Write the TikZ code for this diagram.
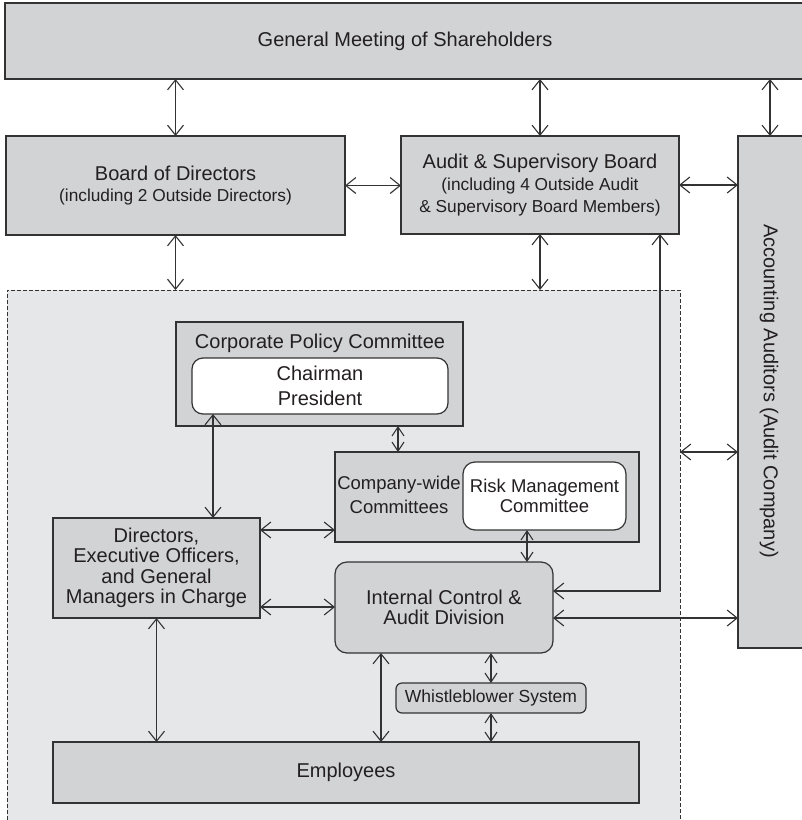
\documentclass[tikz,border=0pt]{standalone}
\usepackage{fontspec}
\setmainfont{Liberation Sans}
\usetikzlibrary{arrows.meta}
\definecolor{boxgray}{HTML}{D1D3D4}
\definecolor{bggray}{HTML}{E6E7E8}
\definecolor{linec}{HTML}{333333}
\definecolor{txt}{HTML}{231F20}
\tikzset{
  box/.style={draw=linec, line width=1.2pt, fill=boxgray, inner sep=0pt, outer sep=0pt, align=center, text=txt, font=\fontsize{20}{22}\selectfont},
  wbox/.style={box, fill=white},
  lbl/.style={inner sep=0pt, align=center, text=txt},
  dar/.style={draw=linec, line width=1.1pt, {Straight Barb[length=10pt,width=16pt]}-{Straight Barb[length=10pt,width=16pt]}},
  sar/.style={draw=linec, line width=1.1pt, {Straight Barb[length=9pt,width=12pt]}-{Straight Barb[length=9pt,width=12pt]}},
}
\begin{document}
\begin{tikzpicture}[x=1pt,y=-1pt]
\useasboundingbox (0,0) rectangle (802,820);
% control region (open at the bottom edge of the picture)
\node[draw=linec, line width=0.8pt, dash pattern=on 4pt off 2pt, fill=bggray, minimum width=673pt, minimum height=540pt, inner sep=0pt, outer sep=0pt] (ctrl) at (343.5,560) {};

\node[box, minimum width=800pt, minimum height=76pt] (gms) at (405,41) {General Meeting of Shareholders};
\node[box, minimum width=339pt, minimum height=99pt] (bod) at (175.5,185.5) {Board of Directors\\[-1pt]\fontsize{17.3}{22}\selectfont (including 2 Outside Directors)};
\node[box, minimum width=278pt, minimum height=98pt] (asb) at (540,185) {Audit \& Supervisory Board\\\fontsize{17.3}{21}\selectfont (including 4 Outside Audit\\\fontsize{17.3}{21}\selectfont \& Supervisory Board Members)};
\node[box, minimum width=68pt, minimum height=512pt] (aa) at (772,392) {};
\node[lbl, rotate=-90, font=\fontsize{20}{22}\selectfont] (aat) at (769,391) {Accounting Auditors (Audit Company)};

% corporate policy committee
\node[box, minimum width=287pt, minimum height=104pt] (cpc) at (319.5,374) {};
\node[lbl, font=\fontsize{20}{22}\selectfont] (cpct) at (320,343) {Corporate Policy Committee};
\node[wbox, rounded corners=11pt, minimum width=256pt, minimum height=56pt, font=\fontsize{20}{25}\selectfont] (chair) at (320,386) {Chairman\\President};

% company-wide committees
\node[box, minimum width=304pt, minimum height=90pt] (cw) at (487,497) {};
\node[lbl, font=\fontsize{18.5}{24}\selectfont] (cwt) at (399,495) {Company-wide\\Committees};
\node[wbox, rounded corners=12pt, minimum width=163pt, minimum height=68pt, font=\fontsize{18.5}{20}\selectfont] (rm) at (544.5,496) {Risk Management\\Committee};

% directors
\node[box, minimum width=207pt, minimum height=100pt, font=\fontsize{20}{20.5}\selectfont] (dir) at (156.5,568) {Directors,\\Executive Officers,\\and General\\Managers in Charge};

% internal control
\node[box, rounded corners=12pt, minimum width=218pt, minimum height=91pt, font=\fontsize{20}{19.5}\selectfont] (ic) at (444,607.5) {Internal Control \&\\Audit Division};

% whistleblower
\node[box, rounded corners=6pt, minimum width=190pt, minimum height=30pt, font=\fontsize{17.5}{20}\selectfont] (wb) at (491,698) {Whistleblower System};

% employees
\node[box, minimum width=586pt, minimum height=61pt] (emp) at (346,772.5) {Employees};

% helper coordinates
\coordinate (bend) at (660,591);
\coordinate (ca) at (680,452);
\coordinate (yia) at (0,618);
\coordinate (x213) at (213,0);
\coordinate (x398) at (398,0);
\coordinate (x527) at (527,0);
\coordinate (x381) at (381,0);
\coordinate (y530) at (0,530);
\coordinate (y607) at (0,607);
\coordinate (ytop) at (0,290);

% connectors
\draw[dar] (bod.north |- gms.south) -- (bod.north);
\draw[dar] (asb.north |- gms.south) -- (asb.north);
\draw[dar] ([xshift=-2pt]aa.north |- gms.south) -- ([xshift=-2pt]aa.north);
\draw[dar] (bod.east) -- (bod.east -| asb.west);
\draw[dar] (asb.east) -- (asb.east -| aa.west);
\draw[dar] (bod.south) -- (bod.south |- ctrl.north);
\draw[dar] (asb.south) -- (asb.south |- ctrl.north);
\draw[dar] (bend |- asb.south) -- (bend) -- (bend -| ic.east);
\draw[dar] (ca) -- (ca -| aa.west);
\draw[dar] (ic.east |- yia) -- (aa.west |- yia);
\draw[dar] (chair.south -| x213) -- (dir.north -| x213);
\draw[sar] (cpc.south -| x398) -- (cw.north -| x398);
\draw[dar] (dir.east |- y530) -- (cw.west |- y530);
\draw[dar] (dir.east |- y607) -- (ic.west |- y607);
\draw[sar] (rm.south -| x527) -- (ic.north -| x527);
\draw[dar] (dir.south) -- (dir.south |- emp.north);
\draw[dar] (ic.south -| x381) -- (emp.north -| x381);
\draw[sar] (wb.north |- ic.south) -- (wb.north);
\draw[sar] (wb.south) -- (wb.south |- emp.north);
\end{tikzpicture}
\end{document}
